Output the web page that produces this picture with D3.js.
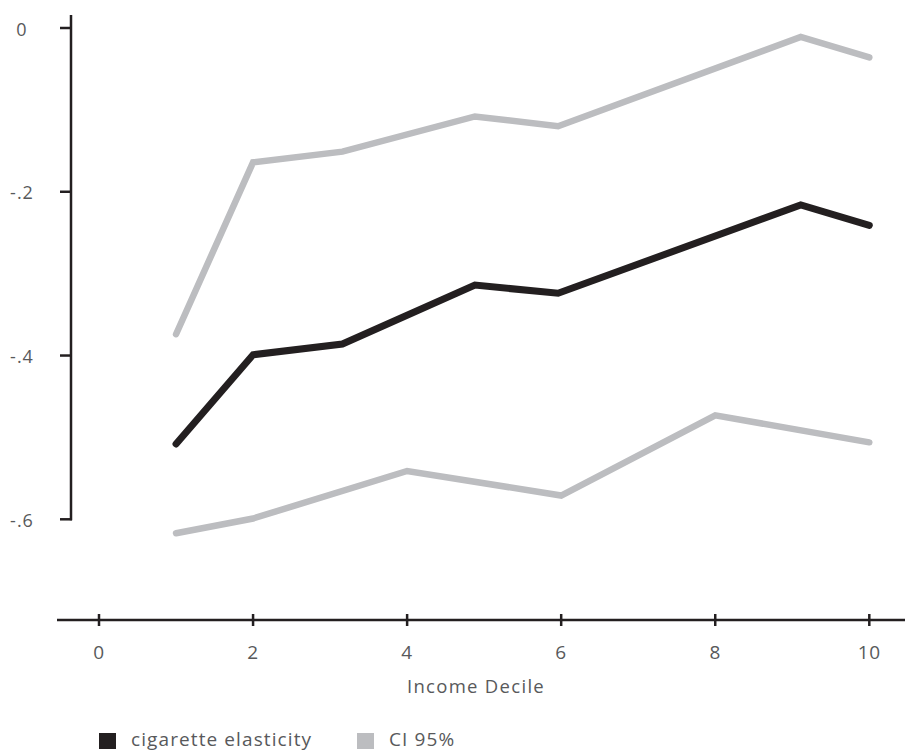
<!DOCTYPE html>
<html>
<head>
<meta charset="utf-8">
<script src="https://cdn.jsdelivr.net/npm/d3@7"></script>
<style>
  html, body { margin: 0; padding: 0; background: #fff; }
  svg { display: block; }
  text { font-family: "Open Sans", sans-serif; fill: #58595b; }
</style>
</head>
<body>
<svg id="chart" width="905" height="751"></svg>
<script>
// Data
const deciles = [1, 2, 3.16, 4.88, 5.96, 9.11, 10];
const elasticity = [-0.508, -0.399, -0.386, -0.314, -0.324, -0.216, -0.241];
const ciUpper = [-0.374, -0.164, -0.151, -0.108, -0.120, -0.011, -0.036];
const ciLowerDeciles = [1, 2, 4, 6, 8, 10];
const ciLower = [-0.617, -0.599, -0.541, -0.571, -0.473, -0.506];
const xTicks = [0, 2, 4, 6, 8, 10];
const yTicks = [0, -0.2, -0.4, -0.6];
const yTickLabels = ["0", "-.2", "-.4", "-.6"];
const seriesNames = ["cigarette elasticity", "CI 95%"];
const seriesColors = ["#231f20", "#bcbdc0"];

const svg = d3.select("#chart");
const x = d3.scaleLinear().domain([0, 10]).range([99, 869.3]);
const y = d3.scaleLinear().domain([0, -0.6]).range([28, 519.3]);

const axisColor = "#231f20";

// Y axis
svg.append("line")
  .attr("x1", 71).attr("x2", 71)
  .attr("y1", 15).attr("y2", y(-0.6) + 1)
  .attr("stroke", axisColor).attr("stroke-width", 2.5);
yTicks.forEach((t, i) => {
  svg.append("line")
    .attr("x1", 60).attr("x2", 72)
    .attr("y1", y(t)).attr("y2", y(t))
    .attr("stroke", axisColor).attr("stroke-width", 2.5);
  svg.append("text")
    .attr("x", 22).attr("y", y(t) + 7.5)
    .attr("text-anchor", "middle")
    .attr("font-size", 18)
    .attr("letter-spacing", 1)
    .text(yTickLabels[i]);
});

// X axis
const xAxisY = 620;
svg.append("line")
  .attr("x1", 57).attr("x2", 905)
  .attr("y1", xAxisY).attr("y2", xAxisY)
  .attr("stroke", axisColor).attr("stroke-width", 2.5);
xTicks.forEach(t => {
  svg.append("line")
    .attr("x1", x(t)).attr("x2", x(t))
    .attr("y1", xAxisY - 6).attr("y2", xAxisY + 6)
    .attr("stroke", axisColor).attr("stroke-width", 2.5);
  svg.append("text")
    .attr("x", x(t)).attr("y", 659)
    .attr("text-anchor", "middle")
    .attr("font-size", 19)
    .attr("letter-spacing", 0.8)
    .text(t);
});
svg.append("text")
  .attr("x", 476).attr("y", 693)
  .attr("text-anchor", "middle")
  .attr("font-size", 18.5)
  .attr("letter-spacing", 1.3)
  .text("Income Decile");

// Lines
const line = d3.line().x(d => x(d[0])).y(d => y(d[1]));
const upperPts = deciles.map((d, i) => [d, ciUpper[i]]);
const lowerPts = ciLowerDeciles.map((d, i) => [d, ciLower[i]]);
const mainPts = deciles.map((d, i) => [d, elasticity[i]]);

[upperPts, lowerPts].forEach(pts => {
  svg.append("path").datum(pts)
    .attr("d", line)
    .attr("fill", "none")
    .attr("stroke", seriesColors[1])
    .attr("stroke-width", 6.5)
    .attr("stroke-linecap", "round")
    .attr("stroke-linejoin", "miter");
});
svg.append("path").datum(mainPts)
  .attr("d", line)
  .attr("fill", "none")
  .attr("stroke", seriesColors[0])
  .attr("stroke-width", 7)
  .attr("stroke-linecap", "round")
  .attr("stroke-linejoin", "miter");

// Legend
const legendX = [99, 357];
seriesNames.forEach((name, i) => {
  svg.append("rect")
    .attr("x", legendX[i]).attr("y", 733)
    .attr("width", 17).attr("height", 16)
    .attr("fill", seriesColors[i]);
  svg.append("text")
    .attr("x", legendX[i] + 32).attr("y", 746)
    .attr("font-size", 19)
    .attr("letter-spacing", 1.1)
    .text(name);
});
</script>
</body>
</html>
